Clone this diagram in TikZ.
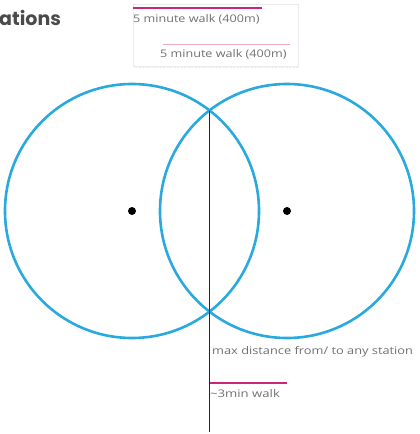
\documentclass[tikz,border=0pt]{standalone}
\usepackage{fontspec}
\setmainfont{Open Sans}
\newfontfamily\titlefont{Poppins}
\definecolor{ringblue}{HTML}{2AA9DF}
\definecolor{labelgray}{HTML}{707070}
\definecolor{titlegray}{HTML}{4A4A4A}
\definecolor{magline}{HTML}{C8287A}
\definecolor{pinkline}{HTML}{F2A9C4}
\begin{document}
\begin{tikzpicture}[x=1pt,y=-1pt,
  ring/.style={draw=ringblue,line width=2.6pt},
  stationdot/.style={circle,fill=black,inner sep=0pt,minimum size=8pt},
  lbl/.style={inner sep=0pt,anchor=west,text=labelgray,font=\fontsize{10.5}{12}\selectfont},
  divider/.style={draw=black!85,line width=1.3pt},
  magrule/.style={draw=magline,line width=1.1pt},
  faint/.style={draw=black!8,line width=0.6pt}]
\useasboundingbox (0,0) rectangle (420,434);
% faint frame around the scale labels
\draw[faint] (133,4) rectangle (298,66);
% circles
\draw[ring] (132,211) circle[radius=127];
\draw[ring] (287,211) circle[radius=127];
\node[stationdot] (s1) at (132,211) {};
\node[stationdot] (s2) at (287,211) {};
% divider
\coordinate (top) at (209.5,110.5);
\coordinate (bot) at (209.5,432);
\draw[divider] (top) -- (bot);
% title fragment
\node[inner sep=0pt,anchor=west,text=titlegray,font=\titlefont\bfseries\fontsize{19}{22}\selectfont] (title) at (-1,18) {ations};
% scale labels
\coordinate (m1a) at (133,8); \coordinate (m1b) at (262,8);
\draw[magrule] (m1a) -- (m1b);
\node[lbl] (l1) at (133,19) {\scalebox{1.2}[1]{5 minute walk (400m)}};
\coordinate (m2a) at (163,44); \coordinate (m2b) at (290,44);
\draw[draw=pinkline,line width=0.8pt] (m2a) -- (m2b);
\node[lbl] (l2) at (160,54) {\scalebox{1.2}[1]{5 minute walk (400m)}};
\coordinate (m3a) at (135,67); \coordinate (m3b) at (298,67);
\draw[draw=ringblue!15,line width=0.7pt,dash pattern=on 2pt off 1.5pt] (m3a) -- (m3b);
% lower labels
\node[lbl] (l3) at (212,352) {\scalebox{1.22}[1]{max distance from/ to any station}};
\coordinate (m4a) at (209.5,383); \coordinate (m4b) at (287,383);
\draw[magrule] (m4a) -- (m4b);
\node[lbl] (l4) at (210,394) {\scalebox{1.25}[1]{\char"7E 3min walk}};
\end{tikzpicture}
\end{document}
